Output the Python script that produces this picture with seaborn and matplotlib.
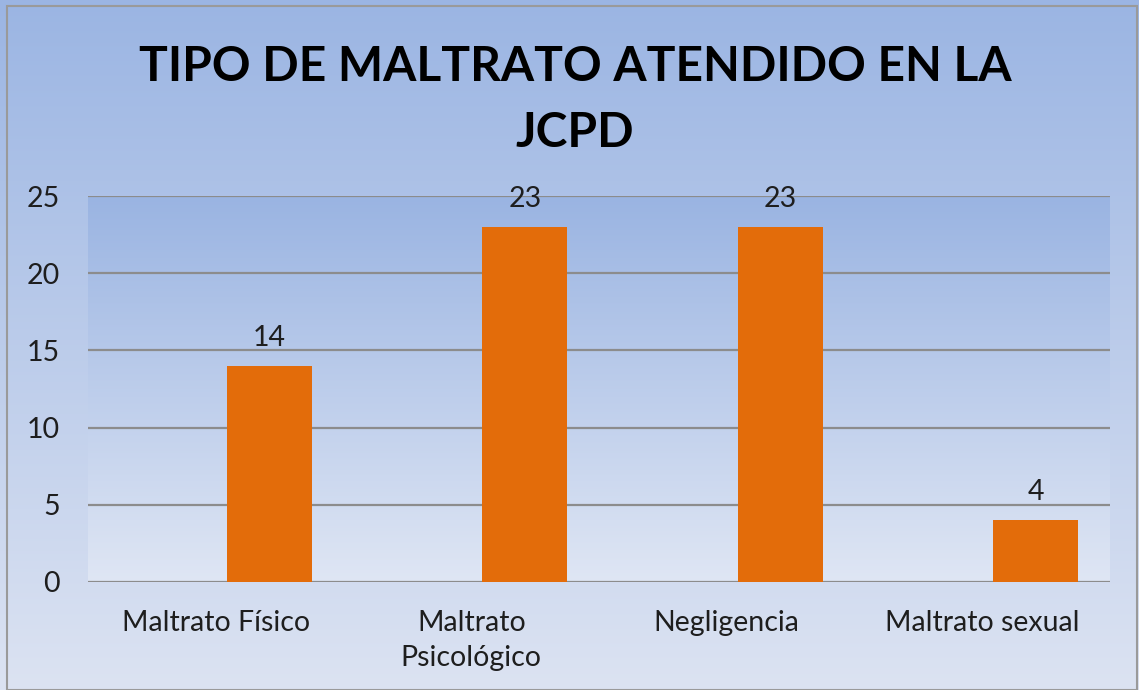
import numpy as np
import pandas as pd
import matplotlib
matplotlib.use("Agg")
import matplotlib.pyplot as plt
from matplotlib.colors import LinearSegmentedColormap
from matplotlib.patches import Rectangle
import seaborn as sns

# ---- data ----
categories = ["Maltrato Físico", "Maltrato\nPsicológico", "Negligencia", "Maltrato sexual"]
values = [14, 23, 23, 4]
series_name = "Serie 1"
hue_levels = ["", series_name]   # empty first slot, as in the original grouped chart
yticks = [0, 5, 10, 15, 20, 25]
title = "TIPO DE MALTRATO ATENDIDO EN LA\nJCPD"

sns.set_theme(style="white")
plt.rcParams['font.family'] = ['Lato', 'DejaVu Sans']

W, H = 1139, 690
fig = plt.figure(figsize=(W / 100, H / 100), dpi=100)

# figure gradient background
bg = fig.add_axes([0, 0, 1, 1], zorder=-10)
grad_cmap = LinearSegmentedColormap.from_list("g", ["#9bb5e3", "#dce3f2"])
bg.imshow(np.linspace(0, 1, 256).reshape(-1, 1), aspect="auto", cmap=grad_cmap,
          extent=[0, 1, 0, 1], origin="upper")
bg.set_xlim(0, 1); bg.set_ylim(0, 1)
bg.axis("off")
bg.add_patch(Rectangle((7 / W, 0), (1137 - 7) / W, (H - 6) / H, fill=False,
                       edgecolor="#9a9a9a", lw=1.5, transform=bg.transAxes))

ax = fig.add_axes([88 / W, 1 - 582 / H, (1110 - 88) / W, (582 - 196) / H])

df = pd.DataFrame({"cat": categories, "val": values, "serie": [series_name] * len(values)})
sns.barplot(data=df, x="cat", y="val", hue="serie", hue_order=hue_levels,
            order=categories, palette={"": "#e36c0a", series_name: "#e36c0a"},
            width=0.84, gap=0.207, dodge=True, ax=ax, zorder=3, legend=False,
            saturation=1, linewidth=0, edgecolor="none")

ax.set_ylim(0, 25)
ax.set_xlim(-0.5, len(categories) - 0.5)

# plot-area gradient
ax_cmap = LinearSegmentedColormap.from_list("a", ["#9ab4e2", "#dfe6f4"])
ax.imshow(np.linspace(0, 1, 256).reshape(-1, 1), aspect="auto", cmap=ax_cmap,
          extent=[-0.5, len(categories) - 0.5, 0, 25], origin="upper", zorder=0)
ax.set_ylim(0, 25)
ax.set_xlim(-0.5, len(categories) - 0.5)
ax.patch.set_alpha(0)

for s in ax.spines.values():
    s.set_visible(False)
ax.set_yticks(yticks)
ax.yaxis.grid(True, color="#8c8c8c", lw=1.6, zorder=1)
ax.set_axisbelow(False)
for gl in ax.get_ygridlines():
    gl.set_zorder(1)
ax.tick_params(axis="y", length=0, pad=20, labelsize=20.5, labelcolor="#1e1e1e")
ax.tick_params(axis="x", length=0, pad=20, labelsize=20.5, labelcolor="#1e1e1e")
ax.set_xlabel(""); ax.set_ylabel("")
for lab in ax.get_xticklabels():
    lab.set_linespacing(1.45)

for cont in ax.containers:
    ax.bar_label(cont, fmt="%d", padding=11, fontsize=20.5, color="#1e1e1e")

fig.text(575 / W, 1 - 100 / H, title, ha="center", va="center", fontsize=34.5,
         fontweight="bold", color="black", linespacing=1.6)

fig.savefig("out.png", dpi=100)
